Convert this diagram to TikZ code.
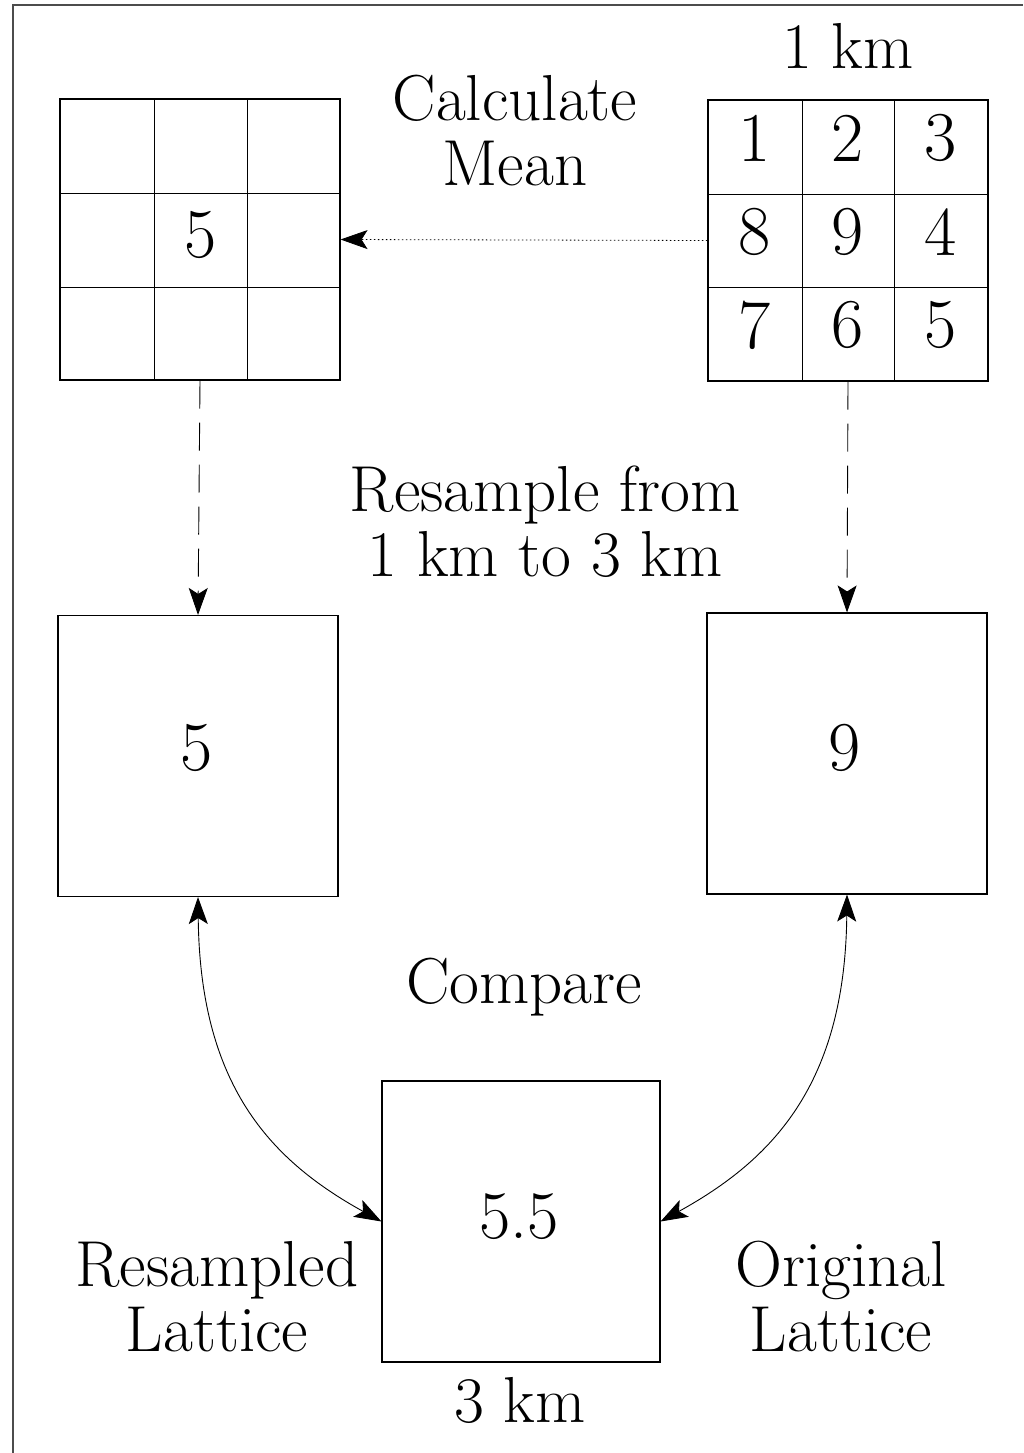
\documentclass[tikz,border=0pt]{standalone}
\usetikzlibrary{arrows.meta}
\begin{document}
\begin{tikzpicture}[x=1pt,y=-1pt,
  big/.style={font=\fontsize{65}{65}\selectfont, inner sep=0pt, align=center},
  digit/.style={font=\fontsize{70}{70}\selectfont, inner sep=0pt},
  boxed/.style={draw, line width=1.1pt, minimum width=280pt, minimum height=281pt, inner sep=0pt},
  gridline/.style={line width=1.0pt},
  tip/.tip={Stealth[length=27pt,width=19pt,inset=6pt]},
  arr/.style={-tip, line width=0.9pt},
  dblarr/.style={tip-tip, line width=0.9pt},
  frame/.style={line width=1.1pt, draw=black!70}]
\useasboundingbox (0,0) rectangle (1023,1453);
\fill[white] (0,0) rectangle (1023,1453);
% frame (top and left edges)
\draw[frame] (13,1453) -- (13,5) -- (1023,5);

% left 3x3 grid
\node[boxed] (lg) at (200,239.5) {};
\draw[gridline] (154,99) -- (154,380) (247,99) -- (247,380) (60,193) -- (340,193) (60,287) -- (340,287);
\node[digit] (lg5) at (200.5,235) {5};

% right 3x3 grid
\node[boxed] (rg) at (848,240.5) {};
\draw[gridline] (802,101) -- (802,380) (894,101) -- (894,380) (708,194) -- (988,194) (708,287) -- (988,287);
\node[digit] (r1) at (755,138) {1};
\node[digit] (r2) at (848,138) {2};
\node[digit] (r3) at (941,138) {3};
\node[digit] (r8) at (755,232) {8};
\node[digit] (r9) at (848,232) {9};
\node[digit] (r4) at (941,232) {4};
\node[digit] (r7) at (755,325) {7};
\node[digit] (r6) at (848,325) {6};
\node[digit] (r5) at (941,325) {5};

\node[big, anchor=base] (km1) at (848,69) {1 km};
\node[big] (calc) at (515,131) {Calculate\\Mean};

% middle boxes
\node[boxed] (mb) at (198,756) {};
\node[digit] (mbv) at (197,748) {5};
\node[boxed] (mo) at (847,753.5) {};
\node[digit] (mov) at (845,748) {9};
\node[big] (resample) at (545,522) {Resample from\\1 km to 3 km};
\node[big, anchor=base] (compare) at (524,1003) {Compare};

% bottom box
\node[boxed, minimum width=278pt] (bb) at (521,1221.5) {};
\node[font=\fontsize{68}{70}\selectfont, inner sep=0pt, anchor=base] (mean) at (519,1238) {5.5};
\node[big] (resl) at (217,1297) {Resampled\\Lattice};
\node[big] (orig) at (841,1297) {Original\\Lattice};
\node[big, anchor=base] (km3) at (520,1422) {3 km};

% connectors
\draw[arr, dash pattern=on 1.5pt off 2.5pt, line width=0.8pt] (rg.west) -- (lg.east);
\draw[arr, dash pattern=on 28pt off 14pt] (lg.south) -- (mb.north);
\draw[arr, dash pattern=on 28pt off 14pt] (rg.south) -- (mo.north);
\draw[dblarr] (mb.south) .. controls (200,1085) and (270,1160) .. (bb.west);
\draw[dblarr] (mo.south) .. controls (845,1085) and (772,1160) .. (bb.east);
\end{tikzpicture}
\end{document}
